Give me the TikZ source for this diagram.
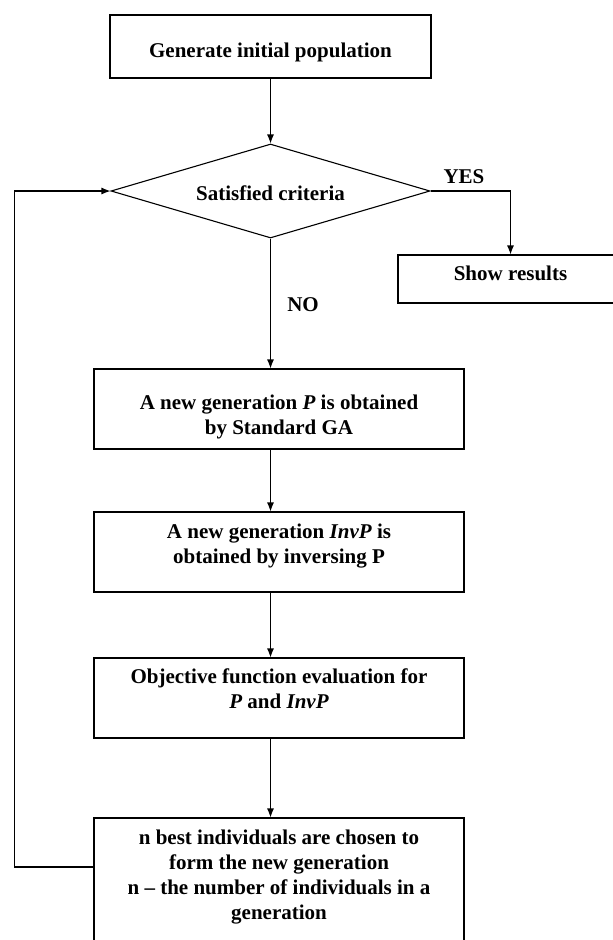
\documentclass[tikz,border=0pt]{standalone}
\usepackage{fontspec}
\setmainfont{Liberation Serif}
\usetikzlibrary{shapes.geometric,arrows.meta}

% invisible struts to move a box's text up or down
\newcommand{\tallline}[1]{\rule{0pt}{#1}}
\newcommand{\deepline}[1]{\rule[-#1]{0pt}{0pt}}

\begin{document}
\begin{tikzpicture}[x=1pt,y=-1pt,line width=1.1pt,
  every node/.style={font=\fontsize{21}{25}\selectfont\bfseries,align=center,inner sep=0},
  box/.style={shape=rectangle,draw,minimum height=80pt,minimum width=370pt},
  ask/.style={shape=diamond,draw,aspect=3.4,minimum width=319pt,minimum height=94pt},
  flow/.style={-{Latex[length=9pt,width=7pt]}}]

\useasboundingbox (0,0) rectangle (613,940);

\node [box, minimum width=321pt, minimum height=63pt] (init) at (270.5,46.5) {\tallline{26.5pt}Generate initial population};
\node [ask] (crit) at (270.5,191) {\tallline{20pt}Satisfied criteria};
\node [box, minimum width=225pt, minimum height=48pt] (show) at (510.5,279) {Show results\deepline{12pt}};
\node [box] (std) at (279,409) {\tallline{30.5pt}A new generation \textit{P} is obtained\\by Standard GA};
\node [box] (inv) at (279,552) {A new generation \textit{InvP} is\\obtained by inversing P\deepline{16.6pt}};
\node [box] (eval) at (279,698) {Objective function evaluation for\\\textit{P} and \textit{InvP}\deepline{18pt}};
\node [box, minimum height=142pt] (best) at (279,889) {n best individuals are chosen to\\form the new generation\\n -- the number of individuals in a\\generation\deepline{28.6pt}};

\node (yes) at (464,177) {YES};
\node (no) at (303,305) {NO};
\coordinate (back) at (14.5,867);

\draw [flow] (init) -- (crit);
\draw [flow] (crit.east) -| (show.north);
\draw [flow] (crit.south) -- (crit.south |- std.north);
\draw [flow] (crit.south |- std.south) -- (crit.south |- inv.north);
\draw [flow] (crit.south |- inv.south) -- (crit.south |- eval.north);
\draw [flow] (crit.south |- eval.south) -- (crit.south |- best.north);
\draw [flow] (best.west |- back) -- (back) |- (crit.west);

\end{tikzpicture}
\end{document}
